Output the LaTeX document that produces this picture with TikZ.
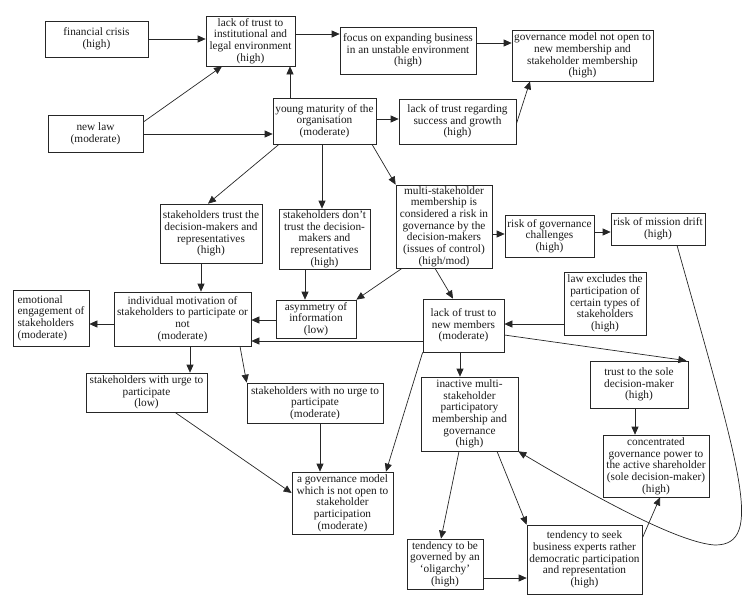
\documentclass[tikz,border=0pt]{standalone}
\usepackage{fontspec}
\setmainfont{Liberation Serif}
\usepackage{tikz}
\usetikzlibrary{arrows.meta}

\begin{document}
\begin{tikzpicture}[x=1pt,y=-1pt,
  box/.style={draw=black!85,line width=0.7pt,align=center,inner sep=1pt,text=black!90,
    font=\fontsize{11.3}{11.7}\selectfont},
  arr/.style={draw=black!85,line width=0.7pt,-{Triangle[length=8pt,width=7pt]}}]
\useasboundingbox (0,0) rectangle (751,600);
% top row
\node[box,minimum width=103pt,minimum height=36pt] (fin) at (96.5,39) {financial crisis\\(high)};
\node[box,minimum width=89pt,minimum height=50pt] (inst) at (250.5,41) {lack of trust to\\institutional and\\legal environment\\(high)};
\node[box,minimum width=136pt,minimum height=47pt] (focus) at (408,50.5) {focus on expanding business\\in an unstable environment\\(high)};
\node[box,minimum width=141pt,minimum height=51pt] (govnot) at (582.5,55.5) {governance model not open to\\new membership and\\stakeholder membership\\(high)};
\node[box,minimum width=95pt,minimum height=37pt] (newlaw) at (95.5,133.5) {new law\\(moderate)};
\node[box,minimum width=103pt,minimum height=46pt] (young) at (324.5,121) {young maturity of the\\organisation\\(moderate)};
\node[box,minimum width=117pt,minimum height=45pt] (regard) at (457.5,121.5) {lack of trust regarding\\success and growth\\(high)};
% middle
\node[box,minimum width=102pt,minimum height=59pt] (trust) at (211,233.5) {stakeholders trust the\\decision-makers and\\representatives\\(high)};
\node[box,minimum width=91pt,minimum height=60pt] (dont) at (324.5,239) {stakeholders don’t\\trust the decision-\\makers and\\representatives\\(high)};
\node[box,minimum width=96pt,minimum height=83pt] (multi) at (444,226.5) {multi-stakeholder\\membership is\\considered a risk in\\governance by the\\decision-makers\\(issues of control)\\(high/mod)};
\node[box,minimum width=89pt,minimum height=42pt] (riskgov) at (549.5,236) {risk of governance\\challenges\\(high)};
\node[box,minimum width=94pt,minimum height=32pt] (drift) at (658,229) {risk of mission drift\\(high)};
\node[box,align=left,minimum width=76pt,minimum height=56pt] (emot) at (51,318) {emotional\\engagement of\\stakeholders\\(moderate)};
\node[box,minimum width=137pt,minimum height=54pt] (indiv) at (182.5,319) {individual motivation of\\stakeholders to participate or\\not\\(moderate)};
\node[box,minimum width=80pt,minimum height=38pt] (asym) at (316,319) {asymmetry of\\information\\(low)};
\node[box,minimum width=82pt,minimum height=63pt] (lawex) at (605,303.5) {law excludes the\\participation of\\certain types of\\stakeholders\\(high)};
\node[box,minimum width=81pt,minimum height=53pt] (newmem) at (463.5,325.5) {lack of trust to\\new members\\(moderate)};
% bottom
\node[box,minimum width=121pt,minimum height=39pt] (urge) at (146.5,392.5) {stakeholders with urge to\\participate\\(low)};
\node[box,minimum width=136pt,minimum height=40pt] (nourge) at (315,403) {stakeholders with no urge to\\participate\\(moderate)};
\node[box,minimum width=97pt,minimum height=74pt] (inactive) at (469.5,414) {inactive multi-\\stakeholder\\participatory\\membership and\\governance\\(high)};
\node[box,minimum width=98pt,minimum height=47pt] (sole) at (639,384.5) {trust to the sole\\decision-maker\\(high)};
\node[box,minimum width=106pt,minimum height=62pt] (conc) at (656,466) {concentrated\\governance power to\\the active shareholder\\(sole decision-maker)\\(high)};
\node[box,minimum width=101pt,minimum height=62pt] (govmod) at (342.5,503) {a governance model\\which is not open to\\stakeholder\\participation\\(moderate)};
\node[box,minimum width=76pt,minimum height=50pt] (olig) at (445,564) {tendency to be\\governed by an\\‘oligarchy’\\(high)};
\node[box,minimum width=115pt,minimum height=69pt] (seek) at (584.5,559.5) {tendency to seek\\business experts rather\\democratic participation\\and representation\\(high)};
% connectors
\draw[arr] (fin.east) -- (fin.east -| inst.west);
\draw[arr] (inst.east |- 0,34) -- (focus.west |- 0,34);
\draw[arr] (focus.east |- 0,43) -- (govnot.west |- 0,43);
\draw[arr] (newlaw.east |- 0,122) -- (inst.south -| 222,0);
\draw[arr] (newlaw.east |- 0,134) -- (young.west |- 0,134);
\draw[arr] (young.north -| 290,0) -- (inst.south -| 290,0);
\draw[arr] (young.east |- 0,119) -- (regard.west |- 0,119);
\draw[arr] (regard.east |- 0,124) -- (govnot.south -| 530,0);
\draw[arr] (young.south -| 279,0) -- (trust.north -| 208,0);
\draw[arr] (young.south -| 322,0) -- (dont.north -| 322,0);
\draw[arr] (young.south -| 372,0) -- (multi.north west);
\draw[arr] (trust.south -| 201,0) -- (indiv.north -| 201,0);
\draw[arr] (dont.south -| 305,0) -- (asym.north -| 305,0);
\draw[arr] (multi.south -| 402,0) -- (asym.north east);
\draw[arr] (multi.east |- 0,234) -- (riskgov.west |- 0,234);
\draw[arr] (riskgov.east |- 0,232) -- (drift.west |- 0,232);
\draw[arr] (multi.south -| 435,0) -- (newmem.north -| 453,0);
\draw[arr] (asym.west |- 0,320) -- (indiv.east |- 0,320);
\draw[arr] (indiv.west |- 0,324) -- (emot.east |- 0,324);
\draw[arr] (newmem.west |- 0,341) -- (indiv.east |- 0,341);
\draw[arr] (lawex.west |- 0,324) -- (newmem.east |- 0,324);
\draw[arr] (newmem.east |- 0,335) -- ([xshift=-2pt]sole.north east);
\draw[arr] (newmem.south west) -- (govmod.north -| 386,0);
\draw[arr] (newmem.south -| 460,0) -- (inactive.north -| 460,0);
\draw[arr] (indiv.south -| 190,0) -- (urge.north -| 190,0);
\draw[arr] (indiv.south -| 240,0) -- (nourge.north west);
\draw[arr] (urge.south -| 175,0) -- (govmod.west |- 0,493);
\draw[arr] (nourge.south -| 320,0) -- (govmod.north -| 320,0);
\draw[arr] (inactive.south -| 459,0) -- (olig.north -| 441,0);
\draw[arr] (inactive.south -| 497,0) -- (seek.north west);
\draw[arr] (olig.east |- 0,578) -- (seek.west |- 0,578);
\draw[arr] (seek.east |- 0,538) -- (conc.south -| 660,0);
\draw[arr] (sole.south -| 635,0) -- (conc.north -| 635,0);
\draw[arr] (drift.south -| 677,0) .. controls (740,470) and (765,545) .. (715,545)
  .. controls (680,543) and (600,500) .. (inactive.south east);
\end{tikzpicture}
\end{document}
